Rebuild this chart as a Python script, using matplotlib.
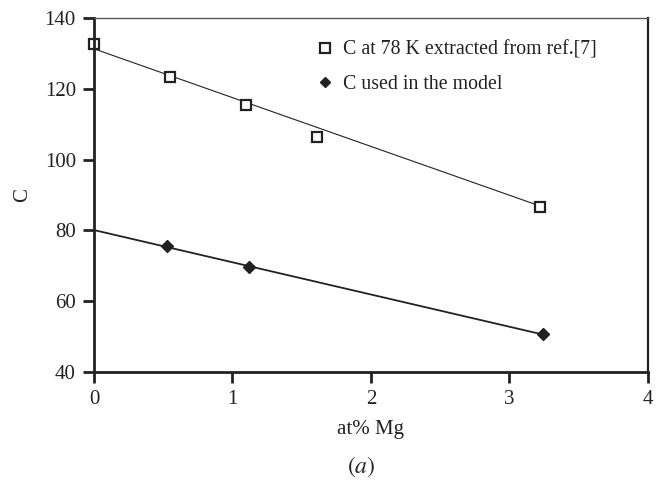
import matplotlib
matplotlib.use('Agg')
from matplotlib import pyplot as plt

plt.rcParams['font.family'] = ['Liberation Serif', 'DejaVu Serif']
plt.rcParams['mathtext.fontset'] = 'stix'

# C at 78 K extracted from ref.[7]
ref_mg = [0.0, 0.55, 1.10, 1.61, 3.22]
ref_c = [132.8, 123.2, 115.4, 106.3, 86.7]
ref_fit_mg = [0.0, 3.22]
ref_fit_c = [131.3, 86.9]

# C used in the model
model_mg = [0.53, 1.12, 3.24]
model_c = [75.6, 69.7, 50.6]
model_fit_mg = [0.0, 3.24]
model_fit_c = [80.1, 50.6]

xticks = [0, 1, 2, 3, 4]
yticks = [40, 60, 80, 100, 120, 140]

ink = '#222222'

fig = plt.figure(figsize=(6.59, 4.83), dpi=100)
ax = fig.add_axes([0.1426, 0.2298, 0.8407, 0.7329])

ax.plot(ref_fit_mg, ref_fit_c, color=ink, lw=0.8)
ax.plot(model_fit_mg, model_fit_c, color=ink, lw=1.3)
ax.plot(ref_mg, ref_c, 's', ms=7.3, mfc='white', mec=ink, mew=1.6,
        label='C at 78 K extracted from ref.[7]', clip_on=False)
ax.plot(model_mg, model_c, 'D', ms=6, mfc=ink, mec=ink,
        label='C used in the model', clip_on=False)

ax.set_xlim(0, 4)
ax.set_ylim(40, 140)
ax.set_xticks(xticks)
ax.set_yticks(yticks)
ax.tick_params(axis='both', direction='out', length=8, width=2, color=ink,
               labelsize=15, labelcolor=ink, pad=5)

for side in ['left', 'bottom']:
    ax.spines[side].set_linewidth(2)
    ax.spines[side].set_color(ink)
ax.spines['right'].set_linewidth(1.6)
ax.spines['right'].set_color(ink)
ax.spines['top'].set_linewidth(1.0)
ax.spines['top'].set_color('#555555')

ax.set_xlabel('at% Mg', fontsize=15, color=ink, labelpad=8)
ax.set_ylabel('C', fontsize=15, color=ink, labelpad=9)

ax.legend(loc='upper left', bbox_to_anchor=(0.378, 0.975), frameon=False,
          fontsize=14.3, handlelength=0.8, handletextpad=0.5,
          labelspacing=0.75, borderpad=0.2, labelcolor=ink, markerscale=0.9)

fig.text(361 / 659, 1 - 467 / 483, r'$(a)$', fontsize=17, color=ink,
         ha='center', va='center')

fig.savefig('out.png', dpi=100)
